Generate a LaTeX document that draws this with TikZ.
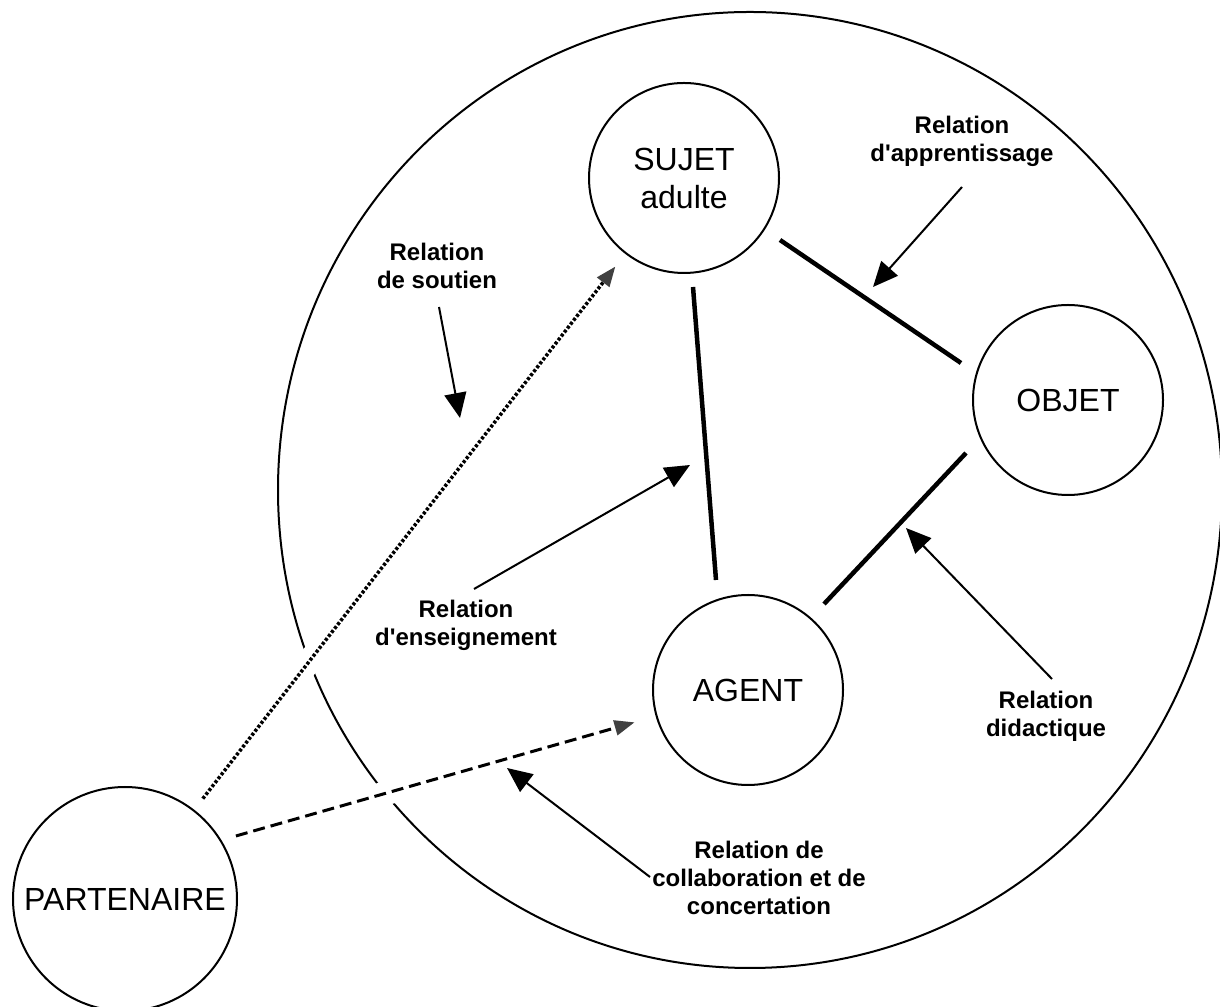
\documentclass[tikz,border=0pt]{standalone}
\usepackage{fontspec}
\setmainfont{Liberation Sans}[Ligatures=TeXOff]
\usetikzlibrary{arrows.meta,calc}
\begin{document}
\begin{tikzpicture}[x=1pt,y=1pt,
  ent/.style={circle,draw,line width=2pt,inner sep=0pt,outer sep=0pt,align=center,font=\fontsize{32}{38}\selectfont},
  lab/.style={align=center,font=\bfseries\fontsize{24}{28}\selectfont,inner sep=0pt},
  rel/.style={line width=4.5pt},
  ptr/.style={line width=2pt,-{Triangle[length=25pt,width=22pt]}},
  dsh/.style={line width=3.5pt,-{Triangle[length=20pt,width=15pt,color=black!75]}},
  gapband/.style={line width=24pt,white}]
\useasboundingbox (0,0) rectangle (1220,1006);
\fill[white] (0,0) rectangle (1220,1006);
% outer circle
\draw[line width=2pt] (750,516) ellipse [x radius=472, y radius=478];
% entities
\node[ent,minimum size=190pt] (S) at (684,828) {SUJET\\adulte};
\node[ent,minimum size=190pt] (O) at (1068,606) {OBJET};
\node[ent,minimum size=190pt] (A) at (748,316) {AGENT};
\node[ent,minimum size=224pt] (P) at (125,107) {PARTENAIRE};
% labels
\node[lab] (Lappr) at (962,865) {Relation\\d'apprentissage};
\node[lab] (Lsout) at (437,740) {Relation\\de soutien};
\node[lab] (Lens) at (466,381) {Relation\\d'enseignement};
\node[lab] (Ldid) at (1046,290) {Relation\\didactique};
\node[lab] (Lcol) at (759,128) {Relation de\\collaboration et de\\concertation};
% thick relation lines
\draw[rel] ($(S)+(9,-109)$) -- ($(A)+(-32,110)$);
\draw[rel] ($(S)+(96,-62)$) -- ($(O)+(-107,37)$);
\draw[rel] ($(O)+(-102,-53)$) -- ($(A)+(76,86)$);
% pointer arrows
\coordinate (t1) at (962,819); \coordinate (h1) at (873,719);
\coordinate (t2) at (439,699); \coordinate (h2) at (460,588);
\coordinate (t3) at (474,417); \coordinate (h3) at (690,541);
\coordinate (t4) at (1052,327); \coordinate (h4) at (906,478);
\coordinate (t5) at (650,129); \coordinate (h5) at (507,238);
\draw[ptr] (t1) -- (h1);
\draw[ptr] (t2) -- (h2);
\draw[ptr] (t3) -- (h3);
\draw[ptr] (t4) -- (h4);
\draw[ptr] (t5) -- (h5);
% dashed partner arrows
\coordinate (d1s) at ($(P)!127pt!(S)$);
\coordinate (d1e) at ($(S)!112pt!(P)$);
\coordinate (d2s) at ($(P)+(29.6:127.6)$);
\coordinate (d2e) at ($(A)!118pt!(d2s)$);
\draw[gapband] ($(d1s)!0.2!(d1e)$) -- ($(d1s)!0.45!(d1e)$);
\draw[gapband] ($(d2s)!0.28!(d2e)$) -- ($(d2s)!0.48!(d2e)$);
\draw[dsh,dash pattern=on 3pt off 2pt] (d1s) -- (d1e);
\draw[dsh,line width=3pt,dash pattern=on 12pt off 6pt] (d2s) -- (d2e);
\end{tikzpicture}
\end{document}
